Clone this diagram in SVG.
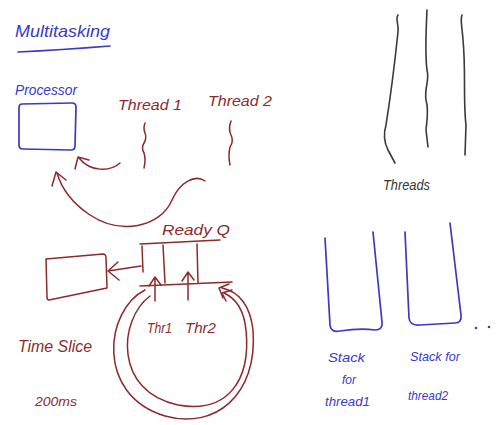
<svg xmlns="http://www.w3.org/2000/svg" width="498" height="425" viewBox="0 0 498 425">
<style>
.bg{fill:#ffffff}
.blue{fill:none;stroke:#3a3ac4;stroke-width:1.7;stroke-linecap:round;stroke-linejoin:round}
.red{fill:none;stroke:#8c2b2b;stroke-width:1.5;stroke-linecap:round;stroke-linejoin:round}
.blk{fill:none;stroke:#3a3a3a;stroke-width:1.6;stroke-linecap:round;stroke-linejoin:round}
.tb{fill:#3a3ac4;font-family:"Liberation Sans",Arial,sans-serif;font-style:italic}
.tr{fill:#8c2b2b;font-family:"Liberation Sans",Arial,sans-serif;font-style:italic}
.tk{fill:#333333;font-family:"Liberation Sans",Arial,sans-serif;font-style:italic}
</style>
<rect class="bg" x="0" y="0" width="498" height="425"/>
<g id="title">
<text class="tb" x="15" y="37" font-size="17" textLength="95" lengthAdjust="spacingAndGlyphs">Multitasking</text>
<path class="blue" d="M18,52 Q60,50 110,46"/>
</g>
<g id="processor">
<text class="tb" x="15" y="95" font-size="14" textLength="62" lengthAdjust="spacingAndGlyphs">Processor</text>
<path class="blue" d="M22,104 L72,103 Q76,103 76,107 L75,146 Q75,150 71,150 L23,149 Q19,149 19,145 L19,108 Q19,104 22,104 Z"/>
</g>
<g id="thread1">
<text class="tr" x="118" y="110" font-size="15" textLength="64" lengthAdjust="spacingAndGlyphs">Thread 1</text>
<path class="red" d="M145,123 q-2,5 0,10 q2,5 -1,10 q-3,5 0,10 q2,6 0,15"/>
</g>
<g id="thread2">
<text class="tr" x="208" y="106" font-size="15" textLength="64" lengthAdjust="spacingAndGlyphs">Thread 2</text>
<path class="red" d="M231,121 q-3,8 0,14 q3,6 -1,12 q-2,8 0,18"/>
</g>
<g id="readyq">
<text class="tr" x="162" y="235" font-size="15" textLength="68" lengthAdjust="spacingAndGlyphs">Ready Q</text>
<path class="red" d="M140,244 L220,240 M142,246 L143,272 M163,245 L165,283 M197,244 L198,283 M140,286 L232,282"/>
</g>
<g id="box2">
<path class="red" d="M46,259 L103,254 Q106,254 106,258 L107,288 L49,300 Q47,300 47,297 Z"/>
</g>
<g id="thr1">
<text class="tr" x="147" y="333" font-size="14" textLength="25" lengthAdjust="spacingAndGlyphs">Thr1</text>
</g>
<g id="thr2">
<text class="tr" x="185" y="333" font-size="14" textLength="31" lengthAdjust="spacingAndGlyphs">Thr2</text>
</g>
<g id="timeslice">
<text class="tr" x="18" y="352" font-size="16" textLength="74" lengthAdjust="spacingAndGlyphs">Time Slice</text>
<text class="tr" x="35" y="406" font-size="13" textLength="42" lengthAdjust="spacingAndGlyphs">200ms</text>
</g>
<g id="threads">
<path class="blk" d="M398,15 C395,19 399,24 398,32 C394,70 390,100 386,125 C383,135 384,142 388,150 L395,163"/>
<path class="blk" d="M427,10 C426,30 425,55 427,70 C430,80 424,88 426,100 C429,110 427,120 426,130 L428,147"/>
<path class="blk" d="M462,15 C460,20 462,25 463,40 C466,70 463,100 466,125 L465,155"/>
<text class="tk" x="383" y="190" font-size="15" textLength="47" lengthAdjust="spacingAndGlyphs">Threads</text>
</g>
<g id="stack1">
<path class="blue" d="M325,238 L330,325 Q331,333 340,331 Q360,328 375,330 Q383,330 382,322 L373,232"/>
<text class="tb" x="328" y="362" font-size="13" textLength="37" lengthAdjust="spacingAndGlyphs">Stack</text>
<text class="tb" x="342" y="384" font-size="13" textLength="14" lengthAdjust="spacingAndGlyphs">for</text>
<text class="tb" x="325" y="406" font-size="13" textLength="45" lengthAdjust="spacingAndGlyphs">thread1</text>
</g>
<g id="stack2">
<path class="blue" d="M405,232 L409,318 Q410,326 420,325 L455,323 Q462,323 461,315 L450,223"/>
<text class="tb" x="410" y="361" font-size="13" textLength="50" lengthAdjust="spacingAndGlyphs">Stack for</text>
<text class="tb" x="408" y="400" font-size="13" textLength="40" lengthAdjust="spacingAndGlyphs">thread2</text>
<circle cx="476" cy="328" r="1.3" fill="#3a3ac4"/>
<circle cx="489" cy="327" r="1.3" fill="#3a3ac4"/>
</g>
<g id="connectors">
<path class="red" d="M120,163 C110,172 90,172 79,158 M75,169 L78,157 L89,160"/>
<path class="red" d="M205,181 C195,174 180,182 172,200 C160,228 120,235 90,215 C72,203 62,190 57,173 M52,186 L56,172 L66,180"/>
<path class="red" d="M141,266 L108,271 M118,262 L108,271 L119,280"/>
<path class="red" d="M155,301 L155,278 M149,286 L155,277 L161,285"/>
<path class="red" d="M188,300 L188,273 M182,281 L188,272 L194,280"/>
<path class="red" d="M145,290 C105,310 95,395 165,416 C215,430 258,395 253,330 C250,305 240,292 222,288 M229,284 L219,288 L223,298"/>
<path class="red" d="M150,296 C118,320 114,392 178,405 C228,414 251,380 246,330 C244,310 235,298 224,293 M232,290 L222,293 L226,301"/>
</g>
</svg>
